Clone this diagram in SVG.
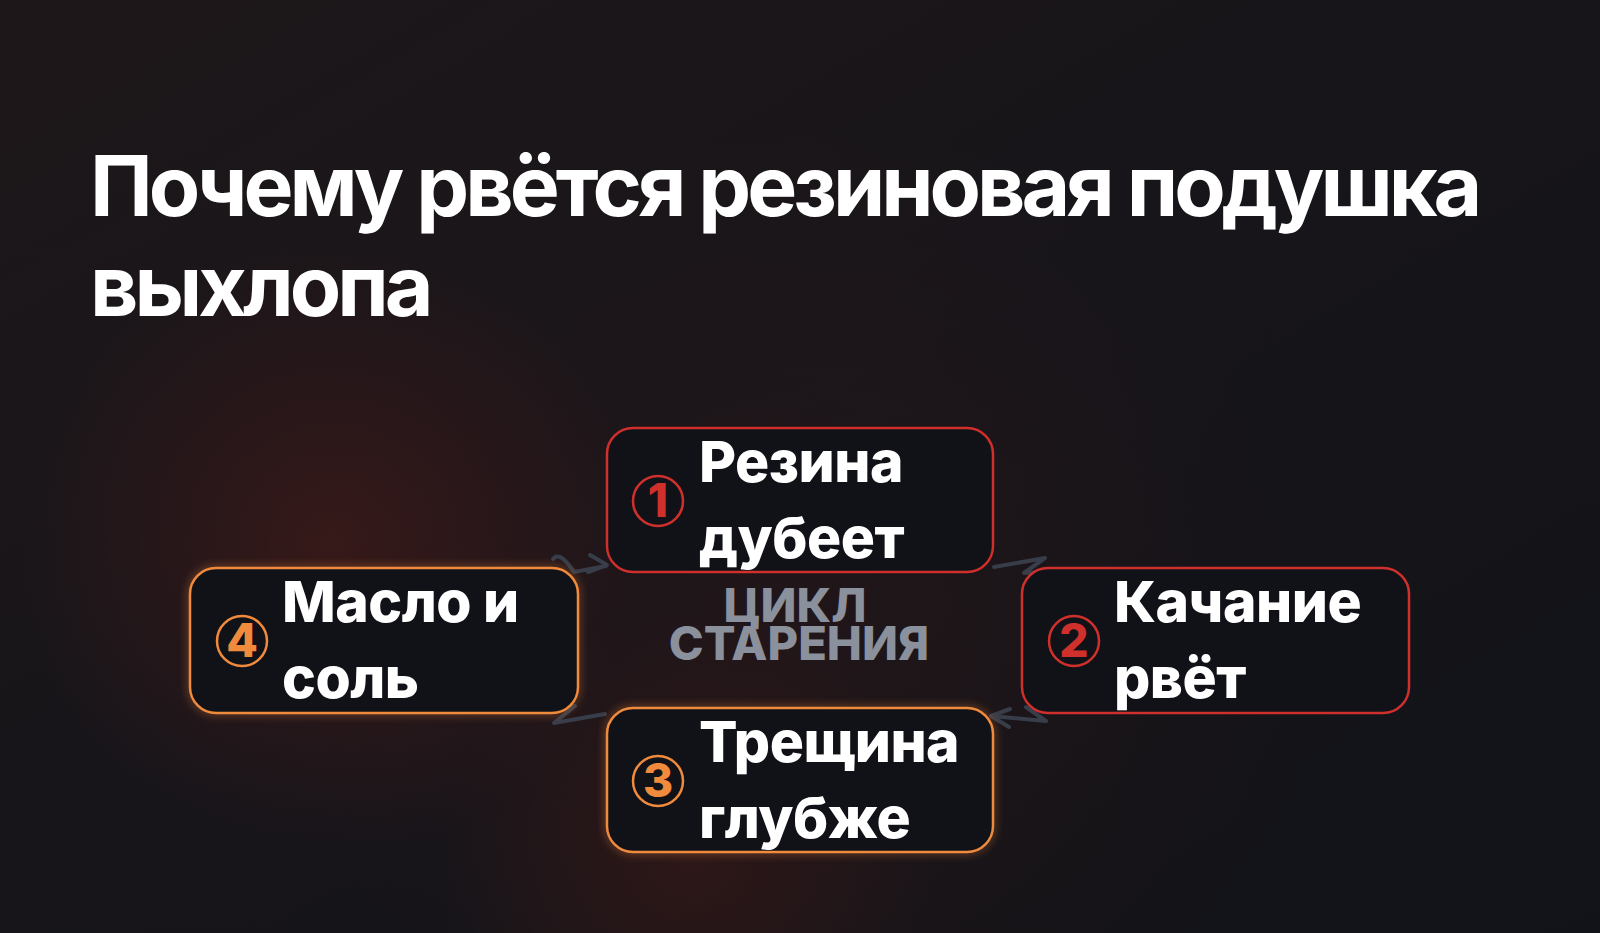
<svg xmlns="http://www.w3.org/2000/svg" width="1600" height="933" viewBox="0 0 1600 933">
<defs>
<linearGradient id="bg" x1="0" y1="0" x2="1" y2="1">
<stop offset="0" stop-color="#1d1719"/>
<stop offset="0.5" stop-color="#17151a"/>
<stop offset="1" stop-color="#111318"/>
</linearGradient>
<radialGradient id="glow1" cx="330" cy="545" r="310" gradientUnits="userSpaceOnUse">
<stop offset="0" stop-color="#5a1c18" stop-opacity="0.45"/>
<stop offset="1" stop-color="#5a1c18" stop-opacity="0"/>
</radialGradient>
<radialGradient id="glow2" cx="690" cy="860" r="250" gradientUnits="userSpaceOnUse">
<stop offset="0" stop-color="#4a1a16" stop-opacity="0.4"/>
<stop offset="1" stop-color="#4a1a16" stop-opacity="0"/>
</radialGradient>
<radialGradient id="glow3" cx="800" cy="640" r="520" gradientUnits="userSpaceOnUse">
<stop offset="0" stop-color="#3a1816" stop-opacity="0.3"/>
<stop offset="1" stop-color="#3a1816" stop-opacity="0"/>
</radialGradient>
<filter id="soft" x="-20%" y="-30%" width="140%" height="160%">
<feGaussianBlur stdDeviation="4"/>
</filter>
<style>
.title{font-family:Inter,"Liberation Sans",sans-serif;font-weight:700;font-size:84px;letter-spacing:-4px;fill:#ffffff;}
.box{fill:#101217;stroke-width:2.5;}
.red{stroke:#d0302c;}
.orange{stroke:#f08a3c;}
.lbl{font-family:Inter,"Liberation Sans",sans-serif;font-weight:800;font-size:57px;letter-spacing:-0.5px;fill:#ffffff;}
.num{font-family:Inter,"Liberation Sans",sans-serif;font-weight:800;font-size:46px;text-anchor:middle;}
.ring{fill:none;stroke-width:2.5;}
.center{font-family:Inter,"Liberation Sans",sans-serif;font-weight:800;font-size:47px;fill:#8a909c;text-anchor:middle;}
.conn{fill:none;stroke:#373d49;stroke-width:4;stroke-linecap:round;stroke-linejoin:round;}
</style>
</defs>
<rect width="1600" height="933" fill="url(#bg)"/>
<rect width="1600" height="933" fill="url(#glow3)"/>
<rect width="1600" height="933" fill="url(#glow1)"/>
<rect width="1600" height="933" fill="url(#glow2)"/>

<g id="title">
<text class="title" x="90" y="216">Почему рвётся резиновая подушка</text>
<text class="title" x="90" y="316">выхлопа</text>
</g>

<g id="connectors">
<path class="conn" d="M553,559 C558,552 566,560 574,572 L606,566 M590,555 L607,565 L588,572"/>
<path class="conn" d="M994,567 L1045,558 L1024,573 L1044,572"/>
<path class="conn" d="M1026,707 L1046,721 L992,716 M1010,709 L991,716 L1009,727"/>
<path class="conn" d="M605,714 L554,723 L575,706 L556,707"/>
</g>

<g id="center-label">
<text class="center" x="795" y="622">ЦИКЛ</text>
<text class="center" x="799" y="660">СТАРЕНИЯ</text>
</g>

<g id="node1">
<rect class="box red" x="607" y="428" width="386" height="144" rx="26"/>
<circle class="ring red" cx="658" cy="501" r="25"/>
<text class="num" x="658" y="517" fill="#d0302c">1</text>
<text class="lbl" x="699" y="482">Резина</text>
<text class="lbl" x="699" y="558">дубеет</text>
</g>

<g id="node2">
<rect class="box red" x="1022" y="568" width="387" height="145" rx="26"/>
<circle class="ring red" cx="1074" cy="641" r="25"/>
<text class="num" x="1074" y="657" fill="#d0302c">2</text>
<text class="lbl" x="1114" y="622">Качание</text>
<text class="lbl" x="1114" y="698">рвёт</text>
</g>

<g id="node3">
<rect class="orange" x="607" y="708" width="386" height="144" rx="26" fill="none" stroke-width="4" opacity="0.5" filter="url(#soft)"/>
<rect class="box orange" x="607" y="708" width="386" height="144" rx="26"/>
<circle class="ring orange" cx="658" cy="781" r="25"/>
<text class="num" x="658" y="797" fill="#f08a3c">3</text>
<text class="lbl" x="699" y="762">Трещина</text>
<text class="lbl" x="699" y="838">глубже</text>
</g>

<g id="node4">
<rect class="orange" x="190" y="568" width="388" height="145" rx="26" fill="none" stroke-width="4" opacity="0.5" filter="url(#soft)"/>
<rect class="box orange" x="190" y="568" width="388" height="145" rx="26"/>
<circle class="ring orange" cx="242" cy="641" r="25"/>
<text class="num" x="242" y="657" fill="#f08a3c">4</text>
<text class="lbl" x="282" y="622">Масло и</text>
<text class="lbl" x="282" y="698">соль</text>
</g>
</svg>
